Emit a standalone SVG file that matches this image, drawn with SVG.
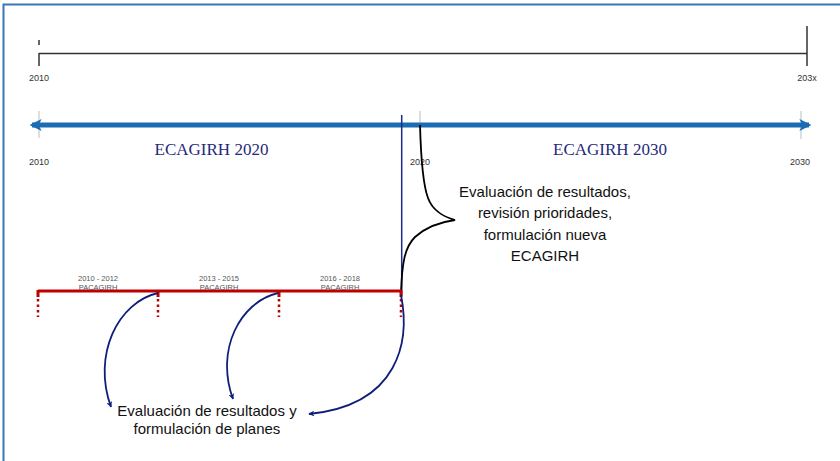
<svg xmlns="http://www.w3.org/2000/svg" width="840" height="461" viewBox="0 0 840 461">
  <defs>
    <marker id="navyHead" viewBox="0 0 10 10" refX="9" refY="5" markerWidth="6" markerHeight="6" orient="auto" markerUnits="userSpaceOnUse">
      <path d="M0,0 L10,5 L0,10 L3,5 z" fill="#0d1f7a"/>
    </marker>
    <marker id="blueHead" viewBox="0 0 10 10" refX="8" refY="5" markerWidth="12" markerHeight="12" orient="auto-start-reverse" markerUnits="userSpaceOnUse">
      <path d="M0,0 L10,5 L0,10 L2.5,5 z" fill="#1a6db3"/>
    </marker>
    <style>
      .yr{font-family:"Liberation Sans",Arial,sans-serif;font-size:9px;fill:#333;text-anchor:middle}
      .per{font-family:"Liberation Sans",Arial,sans-serif;font-size:7.5px;fill:#555;text-anchor:middle}
      .big{font-family:"Liberation Serif","Times New Roman",serif;font-size:17px;fill:#1f2a7a;text-anchor:middle}
      .note{font-family:"Liberation Sans",Arial,sans-serif;font-size:15px;fill:#111;text-anchor:middle}
      .axis{stroke:#333;stroke-width:1.5;fill:none}
      .gtick{stroke:#c8c8c8;stroke-width:1.2}
      .red{stroke:#c00000;stroke-width:3;fill:none}
      .reddot{stroke:#c00000;stroke-width:2.5;stroke-dasharray:2.5,3;fill:none}
      .nav{stroke:#0d1f7a;stroke-width:1.8;fill:none;marker-end:url(#navyHead)}
    </style>
  </defs>
  <rect width="840" height="461" fill="#fff"/>
  <path d="M3.5,461 V4.5 H840" fill="none" stroke="#3a75b8" stroke-width="2"/>

  <g id="top-axis">
    <line class="axis" x1="39" y1="53.5" x2="807" y2="53.5"/>
    <line class="axis" x1="39" y1="53" x2="39" y2="66"/>
    <line class="axis" x1="39" y1="40" x2="39" y2="45"/>
    <line class="axis" x1="807" y1="26" x2="807" y2="66"/>
    <text class="yr" x="39" y="80.5">2010</text>
    <text class="yr" x="807" y="80.5">203x</text>
  </g>

  <g id="main-axis">
    <line class="gtick" x1="39" y1="111" x2="39" y2="138"/>
    <line class="gtick" x1="801" y1="111" x2="801" y2="139"/>
    <line class="gtick" x1="420" y1="111" x2="420" y2="125"/>
    <line x1="32" y1="125" x2="809" y2="125" stroke="#1a6db3" stroke-width="5" marker-start="url(#blueHead)" marker-end="url(#blueHead)"/>
    <text class="yr" x="39" y="165">2010</text>
    <text class="yr" x="420" y="165">2020</text>
    <text class="yr" x="800" y="165">2030</text>
    <text class="big" x="211.5" y="155">ECAGIRH 2020</text>
    <text class="big" x="610" y="155">ECAGIRH 2030</text>
  </g>

  <g id="divider">
    <line x1="401.7" y1="115" x2="401.7" y2="296" stroke="#1b2a8c" stroke-width="1.5"/>
  </g>

  <g id="brace">
    <path d="M420,125 C421,160 423,185 428,198 C433,212 445,217 455,220 C440,222 425,228 415,237 C404,248 402,265 401,293" fill="none" stroke="#000" stroke-width="1.8"/>
  </g>

  <g id="note-ecagirh">
    <text class="note" x="545" y="197">Evaluación de resultados,</text>
    <text class="note" x="545" y="218">revisión prioridades,</text>
    <text class="note" x="545" y="240">formulación nueva</text>
    <text class="note" x="545" y="261">ECAGIRH</text>
  </g>

  <g id="pacagirh">
    <line class="red" x1="38" y1="291" x2="402" y2="291"/>
    <line class="red" x1="38" y1="290" x2="38" y2="297"/>
    <line class="red" x1="158" y1="290" x2="158" y2="297"/>
    <line class="red" x1="279" y1="290" x2="279" y2="297"/>
    <line class="red" x1="401" y1="290" x2="401" y2="297"/>
    <line class="reddot" x1="38" y1="299" x2="38" y2="317"/>
    <line class="reddot" x1="158" y1="299" x2="158" y2="317"/>
    <line class="reddot" x1="279" y1="299" x2="279" y2="317"/>
    <line class="reddot" x1="401" y1="299" x2="401" y2="317"/>
    <text class="per" x="98" y="281">2010 - 2012</text>
    <text class="per" x="98" y="290">PACAGIRH</text>
    <text class="per" x="219" y="281">2013 - 2015</text>
    <text class="per" x="219" y="290">PACAGIRH</text>
    <text class="per" x="340" y="281">2016 - 2018</text>
    <text class="per" x="340" y="290">PACAGIRH</text>
  </g>

  <g id="connectors">
    <path class="nav" d="M158,293 C118,302 92,355 111,407"/>
    <path class="nav" d="M278,293 C240,302 215,350 233,399"/>
    <path class="nav" d="M401,295 C410,340 400,405 309,414"/>
  </g>

  <g id="note-planes">
    <text class="note" x="207" y="416">Evaluación de resultados y</text>
    <text class="note" x="207" y="434">formulación de planes</text>
  </g>
</svg>
